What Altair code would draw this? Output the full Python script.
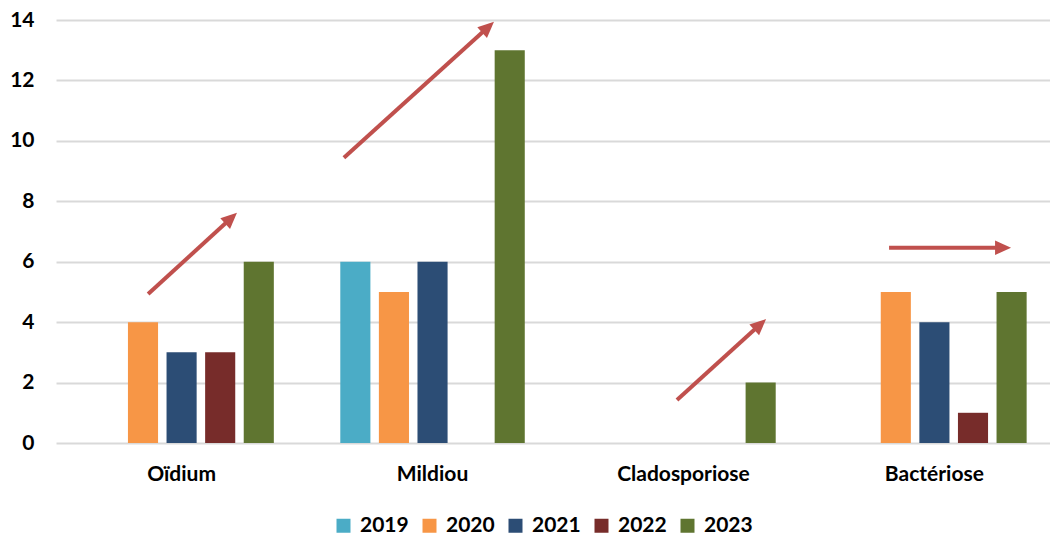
import math
import altair as alt
import pandas as pd

# Disease counts per year (None = no case recorded)
diseases = ["Oïdium", "Mildiou", "Cladosporiose", "Bactériose"]
years = ["2019", "2020", "2021", "2022", "2023"]
v2019 = [None, 6, None, None]
v2020 = [4, 5, None, 5]
v2021 = [3, 6, None, 4]
v2022 = [3, None, None, 1]
v2023 = [6, 13, 2, 5]
colors = ["#4BACC6", "#F79646", "#2C4D75", "#772C2A", "#5F7530"]

# Trend arrows in data units: x = position along the category axis (0..4), y = count
arrow_x0 = [0.367, 1.147, 2.474, 3.319]
arrow_y0 = [4.93, 9.44, 1.42, 6.46]
arrow_x1 = [0.721, 1.745, 2.829, 3.805]
arrow_y1 = [7.62, 13.94, 4.10, 6.46]

W, H = 994, 423
X_SPAN = 1004  # category axis runs slightly past the right edge of the view
Y_MAX = 14
FONT = "Lato"
FS = 21

rows = []
for year, vals in zip(years, [v2019, v2020, v2021, v2022, v2023]):
    for d, v in zip(diseases, vals):
        if v is not None:
            rows.append({"maladie": d, "annee": year, "n": v})
bars_df = pd.DataFrame(rows)

# Arrow geometry: shaft stops short of the tip so the head covers it cleanly
px_x = X_SPAN / 4
px_y = H / Y_MAX
arrows = []
for x0, y0, x1, y1 in zip(arrow_x0, arrow_y0, arrow_x1, arrow_y1):
    dxp = (x1 - x0) * px_x
    dyp = (y1 - y0) * px_y
    length = math.hypot(dxp, dyp)
    ang = math.degrees(math.atan2(dxp, dyp))
    back = 10 / length
    arrows.append({
        "x0": x0, "y0": y0,
        "xe": x1 - (x1 - x0) * back, "ye": y1 - (y1 - y0) * back,
        "x1": x1, "y1": y1, "angle": ang,
    })
arrow_df = pd.DataFrame(arrows)

bars = alt.Chart(bars_df).mark_bar().encode(
    x=alt.X(
        "maladie:N",
        sort=diseases,
        title=None,
        scale=alt.Scale(range=[0, X_SPAN], paddingInner=0.231, paddingOuter=0.116),
        axis=alt.Axis(
            labelAngle=0, labelFont=FONT, labelFontWeight="bold", labelFontSize=FS,
            labelColor="#000000", domain=False, ticks=False, labelPadding=20,
        ),
    ),
    xOffset=alt.XOffset(
        "annee:N", sort=years,
        scale=alt.Scale(domain=years, paddingInner=0.22, paddingOuter=0.11),
    ),
    y=alt.Y(
        "n:Q",
        title=None,
        scale=alt.Scale(domain=[0, Y_MAX], nice=False),
        axis=alt.Axis(
            values=list(range(0, Y_MAX + 1, 2)), labelFont=FONT, labelFontWeight="bold",
            labelFontSize=FS, labelColor="#000000", domain=False, ticks=False,
            labelPadding=22, gridColor="#D9D9D9", gridWidth=2,
        ),
    ),
    color=alt.Color(
        "annee:N",
        sort=years,
        scale=alt.Scale(domain=years, range=colors),
        legend=alt.Legend(
            title=None, orient="none", direction="horizontal", legendX=277, legendY=495,
            symbolType="square", symbolSize=196, symbolStrokeWidth=0,
            labelFont=FONT, labelFontWeight="bold", labelFontSize=FS, labelColor="#000000",
            columnPadding=10, labelOffset=6,
        ),
    ),
)

xs = alt.Scale(domain=[0, 4], range=[0, X_SPAN])
ys = alt.Scale(domain=[0, Y_MAX], nice=False)

shaft = alt.Chart(arrow_df).mark_rule(color="#C0504D", strokeWidth=4).encode(
    x=alt.X("x0:Q", scale=xs, axis=None),
    y=alt.Y("y0:Q", scale=ys, axis=None),
    x2="xe:Q",
    y2="ye:Q",
)

head = alt.Chart(arrow_df).mark_point(
    shape="M0,0L-0.45,1L0.45,1Z", filled=True, color="#C0504D", opacity=1, size=1024,
).encode(
    x=alt.X("x1:Q", scale=xs, axis=None),
    y=alt.Y("y1:Q", scale=ys, axis=None),
    angle=alt.Angle("angle:Q", scale=None),
)

chart = (
    alt.layer(bars, alt.layer(shaft, head))
    .resolve_scale(x="independent", y="independent")
    .properties(
        width=W, height=H,
        autosize=alt.AutoSizeParams(type="none"),
        padding={"left": 56, "top": 20, "right": 0, "bottom": 92},
        background="#FFFFFF",
    )
    .configure_view(stroke=None)
)

chart.save("out.html", embed_options={"renderer": "svg", "actions": False})
